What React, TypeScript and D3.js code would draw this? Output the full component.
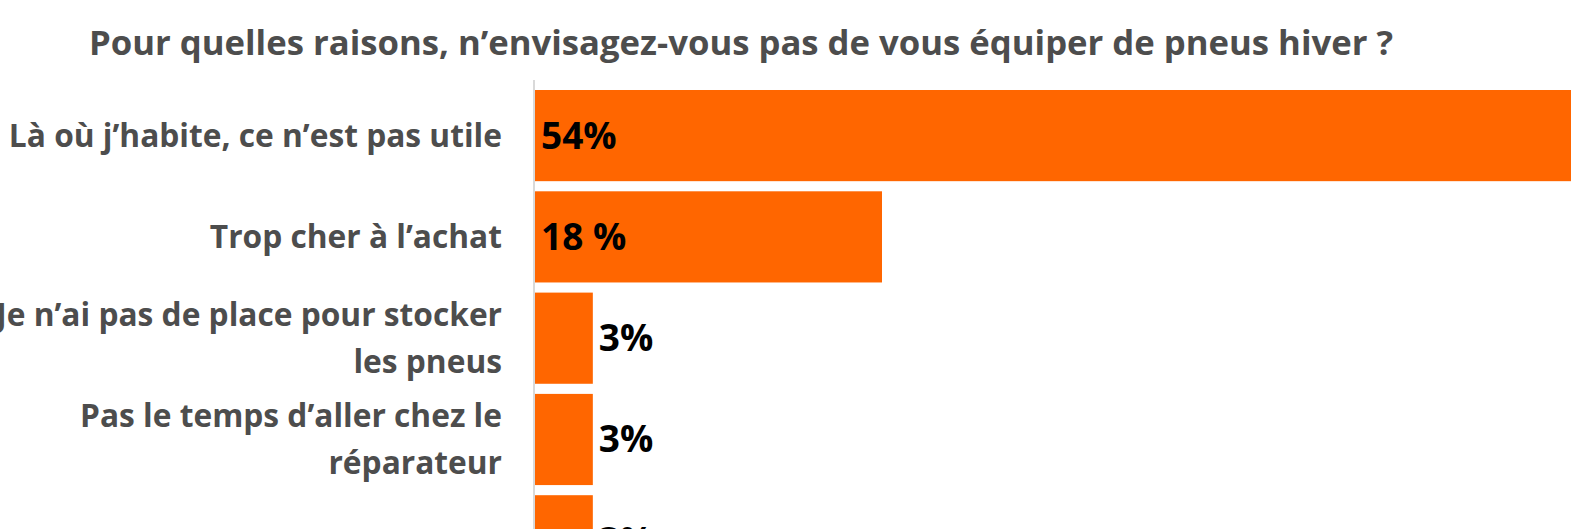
import React, { useEffect } from "react";
import * as d3 from "d3";

const title = "Pour quelles raisons, n’envisagez-vous pas de vous équiper de pneus hiver ?";
const categories = [
  ["Là où j’habite, ce n’est pas utile"],
  ["Trop cher à l’achat"],
  ["Je n’ai pas de place pour stocker", "les pneus"],
  ["Pas le temps d’aller chez le", "réparateur"],
  ["Autre"],
];
const values = [54, 18, 3, 3, 3];
const valueLabels = ["54%", "18 %", "3%", "3%", "3%"];

const W = 1571;
const H = 529;
const FONT = "'Open Sans', sans-serif";

export default function App() {
  useEffect(() => {
    document.body.style.margin = "0";
  }, []);

  const x = d3.scaleLinear().domain([0, 18]).range([535, 882]);
  const step = 101.3;
  const y = d3
    .scaleBand<number>()
    .domain(d3.range(categories.length))
    .range([90 - step * 0.05, 90 - step * 0.05 + step * categories.length])
    .paddingInner(0.1)
    .paddingOuter(0.05);

  return (
    <svg width={W} height={H} style={{ display: "block" }}>
      <rect width={W} height={H} fill="#fff" />
      <text
        x={741}
        y={55}
        textAnchor="middle"
        fontFamily={FONT}
        fontWeight={700}
        fontSize={34.7}
        fill="#4d4d4d"
      >
        {title}
      </text>
      <line x1={534} x2={534} y1={80} y2={H} stroke="#d9d9d9" strokeWidth={2} />
      {values.map((v, i) => {
        const y0 = y(i)!;
        const bw = y.bandwidth();
        const cy = y0 + bw / 2;
        const inside = v > 10;
        const lines = categories[i];
        const lh = 47;
        return (
          <g key={i}>
            <rect x={x(0)} y={y0} width={x(v) - x(0)} height={bw} fill="#ff6600" />
            <text
              x={inside ? x(0) + 6 : x(v) + 6}
              y={cy + 13}
              fontFamily={FONT}
              fontWeight={700}
              fontSize={37}
              fill="#000"
            >
              {valueLabels[i]}
            </text>
            {lines.map((t, j) => (
              <text
                key={j}
                x={502}
                y={cy + 11.5 + (j - (lines.length - 1) / 2) * lh}
                textAnchor="end"
                fontFamily={FONT}
                fontWeight={700}
                fontSize={31.7}
                fill="#4d4d4d"
              >
                {t}
              </text>
            ))}
          </g>
        );
      })}
    </svg>
  );
}
